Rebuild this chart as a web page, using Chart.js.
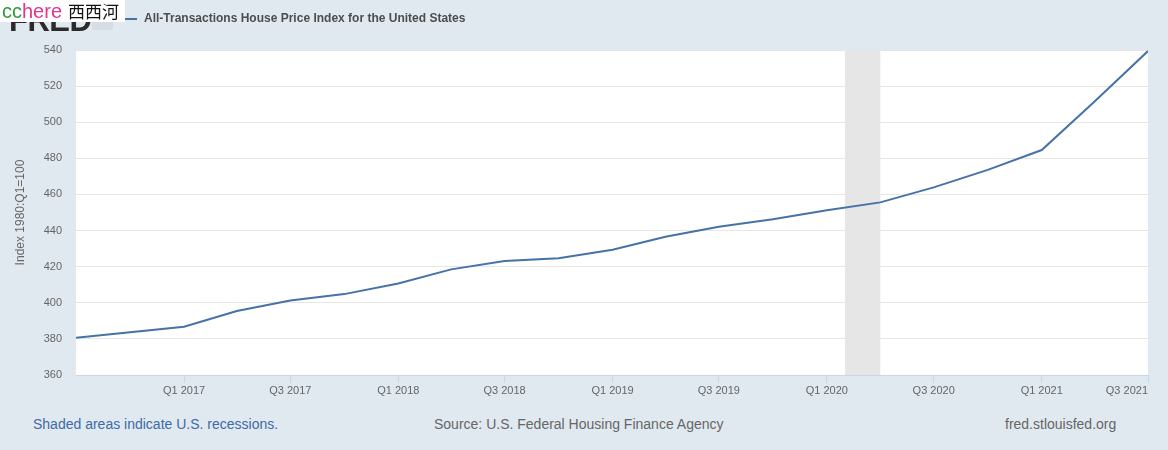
<!DOCTYPE html>
<html>
<head>
<meta charset="utf-8">
<script src="https://cdn.jsdelivr.net/npm/chart.js@4/dist/chart.umd.min.js"></script>
<style>
  body { margin: 0; background: #e1e9f0; font-family: "Liberation Sans", Arial, sans-serif; }
  .page { position: relative; width: 1168px; height: 450px; overflow: hidden; }
  #chart { position: absolute; left: 0; top: 0; }
  .logo { position: absolute; left: 9px; top: 3px; font-size: 31px; font-weight: bold; color: #2b2b2b; letter-spacing: -0.5px; }
  .logoIcon { position: absolute; left: 92px; top: 17px; width: 21px; height: 13px; background: #d6dde4; border-radius: 2px; }
  .mark { position: absolute; left: 0; top: 0; width: 125px; height: 22px; background: #fff; font-size: 20px; line-height: 22px; white-space: nowrap; }
  .mark .cc { color: #2e9b3a; margin-left: 2px; }
  .mark .here { color: #e5338e; }
  .mark .cn { color: #111; font-family: "Noto Sans CJK SC", sans-serif; font-size: 17px; margin-left: 6px; vertical-align: top; }
  .legendLine { position: absolute; left: 125px; top: 18px; width: 12px; height: 2px; background: #4572a7; }
  .title { position: absolute; left: 144px; top: 11px; font-size: 12px; font-weight: bold; color: #4d4d4d; }
  .foot { position: absolute; top: 416px; font-size: 14px; color: #666; white-space: nowrap; }
</style>
</head>
<body>
<div class="page">
  <canvas id="chart" width="1168" height="400"></canvas>
  <div class="logo">FRED</div>
  <div class="logoIcon"></div>
  <div class="mark"><span class="cc">cc</span><span class="here">here</span><span class="cn">西西河</span></div>
  <div class="legendLine"></div>
  <div class="title">All-Transactions House Price Index for the United States</div>
  <div class="foot" style="left:33px;color:#3e6aa6">Shaded areas indicate U.S. recessions.</div>
  <div class="foot" style="left:434px">Source: U.S. Federal Housing Finance Agency</div>
  <div class="foot" style="left:1005px">fred.stlouisfed.org</div>
</div>
<script>
// quarterly observations
const quarterDates = ['2016-07-01', '2016-10-01', '2017-01-01', '2017-04-01', '2017-07-01', '2017-10-01',
    '2018-01-01', '2018-04-01', '2018-07-01', '2018-10-01', '2019-01-01', '2019-04-01', '2019-07-01',
    '2019-10-01', '2020-01-01', '2020-04-01', '2020-07-01', '2020-10-01', '2021-01-01', '2021-04-01', '2021-07-01']
const hpiValues = [380.6, 383.7, 386.7, 395.4, 401.2, 404.8, 410.7, 418.5, 423.1, 424.6, 429.4, 436.6, 442.1,
    446.3, 451.2, 455.6, 463.9, 473.6, 484.6, 511.5, 539.4]

const tickDates = ['2017-01-01', '2017-07-01', '2018-01-01', '2018-07-01', '2019-01-01', '2019-07-01',
    '2020-01-01', '2020-07-01', '2021-01-01', '2021-07-01']
const tickLabels = ['Q1 2017', 'Q3 2017', 'Q1 2018', 'Q3 2018', 'Q1 2019', 'Q3 2019',
    'Q1 2020', 'Q3 2020', 'Q1 2021', 'Q3 2021']

const recessionStart = ['2020-02-01']
const recessionEnd = ['2020-04-01']

const axisStart = '2016-07-01'
const axisEnd = '2021-07-01'

// dates -> day numbers for the linear x scale
const toDay = (s) => Date.parse(s + 'T00:00:00Z') / 86400000

const points = quarterDates.map((d, i) => ({ x: toDay(d), y: hpiValues[i] }))
const tickDays = tickDates.map(toDay)

const plotBackground = {
    id: 'plotBackground',
    beforeDraw(chart) {
        const { ctx, chartArea: a, scales } = chart
        ctx.save()
        ctx.fillStyle = '#ffffff'
        ctx.fillRect(a.left, a.top, a.right - a.left, a.bottom - a.top)
        ctx.fillStyle = '#e6e6e6'
        recessionStart.forEach((s, i) => {
            const x1 = scales.x.getPixelForValue(toDay(s))
            const x2 = scales.x.getPixelForValue(toDay(recessionEnd[i]))
            ctx.fillRect(x1, a.top, x2 - x1, a.bottom - a.top)
        })
        ctx.restore()
    }
}

Chart.defaults.font.family = '"Liberation Sans", Arial, sans-serif'
Chart.defaults.color = '#666'

new Chart(document.getElementById('chart'), {
    type: 'line',
    data: {
        datasets: [{
            label: 'All-Transactions House Price Index for the United States',
            data: points,
            borderColor: '#4572a7',
            borderWidth: 2,
            pointRadius: 0,
            tension: 0,
            fill: false
        }]
    },
    options: {
        responsive: false,
        animation: false,
        layout: { padding: { left: 0, right: 20, top: 50, bottom: 0 } },
        plugins: { legend: { display: false }, tooltip: { enabled: false } },
        scales: {
            x: {
                type: 'linear',
                min: toDay(axisStart),
                max: toDay(axisEnd),
                // blank first tick at the axis start so the last label can sit inside the plot
                afterBuildTicks: (scale) => {
                    scale.ticks = [{ value: toDay(axisStart) }].concat(tickDays.map(v => ({ value: v })))
                },
                afterFit: (scale) => { scale.height = 25 },
                ticks: {
                    autoSkip: false,
                    maxRotation: 0,
                    align: 'inner',
                    padding: 1,
                    font: { size: 11 },
                    color: '#666',
                    callback: (v) => tickLabels[tickDays.indexOf(v)] || ''
                },
                grid: {
                    drawOnChartArea: false,
                    color: '#ccd6eb',
                    tickColor: (c) => c.index === 0 ? 'rgba(0,0,0,0)' : '#ccd6eb',
                    tickLength: 8
                },
                border: { color: '#ccd6eb' }
            },
            y: {
                min: 360,
                max: 540,
                afterFit: (scale) => { scale.width = 76 },
                ticks: { stepSize: 20, padding: 14, font: { size: 11 }, color: '#666' },
                grid: { color: '#e6e6e6', drawTicks: false },
                border: { display: false },
                title: {
                    display: true,
                    text: 'Index 1980:Q1=100',
                    font: { size: 12 },
                    color: '#666',
                    padding: { top: 13, bottom: 0 }
                }
            }
        }
    },
    plugins: [plotBackground]
})
</script>
</body>
</html>
